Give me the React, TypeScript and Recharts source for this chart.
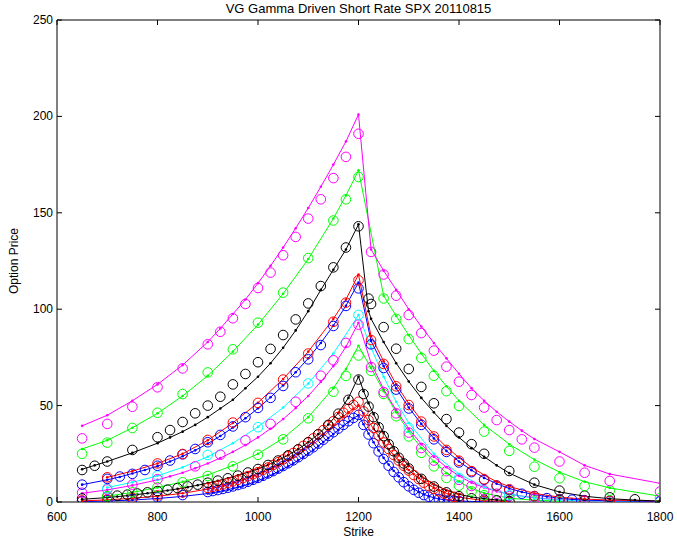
import React from "react";
import { ScatterChart, Scatter, XAxis, YAxis } from "recharts";

// strike grids and prices, shortest maturity first
const denseStrikes = [
  650, 700, 750, 800, 850,
  900, 910, 920, 930, 940, 950, 960, 970, 980, 990,
  1000, 1010, 1020, 1030, 1040, 1050, 1060, 1070, 1080, 1090,
  1100, 1110, 1120, 1130, 1140, 1150, 1160, 1170, 1180, 1190,
  1200,
  1210, 1220, 1230, 1240, 1250, 1260, 1270, 1280, 1290,
  1300, 1310, 1320, 1330, 1340, 1350, 1360, 1370, 1380, 1390,
  1400, 1450, 1500,
];

const market1 = [
  0.5, 0.9, 1.5, 2.4, 3.6,
  5.2, 5.7, 6.2, 6.8, 7.4, 8.1, 8.8, 9.6, 10.5, 11.5,
  12.5, 13.6, 14.8, 16.0, 17.3, 18.7, 20.1, 21.6, 23.2, 24.9,
  26.6, 28.4, 30.3, 32.3, 34.3, 36.2, 38.1, 40.0, 41.9, 43.6,
  45.2,
  40.0, 35.0, 30.5, 26.2, 22.3, 18.8, 15.6, 12.8, 10.3,
  8.1, 6.3, 4.8, 3.6, 2.7, 2.0, 1.5, 1.1, 0.8, 0.6,
  0.5, 0.2, 0.1,
];
const model1 = [
  0.2, 0.5, 1.0, 1.8, 2.9,
  4.4, 4.8, 5.3, 5.8, 6.4, 7.0, 7.7, 8.4, 9.2, 10.1,
  11.1, 12.1, 13.2, 14.4, 15.7, 17.1, 18.5, 20.0, 21.6, 23.3,
  25.1, 27.0, 29.0, 31.1, 33.2, 35.3, 37.4, 39.5, 41.5, 43.4,
  45.0,
  40.3, 35.5, 31.0, 26.8, 22.9, 19.4, 16.2, 13.4, 10.9,
  8.7, 6.8, 5.2, 4.0, 3.0, 2.2, 1.6, 1.2, 0.9, 0.6,
  0.5, 0.1, 0.0,
];

const market2 = [
  0.8, 1.4, 2.2, 3.4, 5.0,
  7.3, 7.9, 8.5, 9.2, 9.9, 10.7, 11.5, 12.4, 13.4, 14.4,
  15.5, 16.7, 17.9, 19.2, 20.6, 22.1, 23.7, 25.4, 27.2, 29.1,
  31.0, 33.0, 35.1, 37.3, 39.6, 41.9, 44.1, 46.3, 48.4, 50.3,
  52.0,
  47.0, 42.5, 38.4, 34.5, 30.9, 27.5, 24.4, 21.5, 18.8,
  16.3, 14.0, 11.9, 10.0, 8.3, 6.8, 5.5, 4.4, 3.5, 2.7,
  2.1, 0.5, 0.2,
];
const model2 = [
  0.6, 1.1, 1.9, 3.0, 4.5,
  6.7, 7.2, 7.8, 8.4, 9.1, 9.8, 10.6, 11.4, 12.3, 13.3,
  14.3, 15.4, 16.6, 17.8, 19.1, 20.5, 22.0, 23.6, 25.3, 27.1,
  29.0, 31.0, 33.1, 35.3, 37.6, 39.9, 42.2, 44.4, 46.5, 48.4,
  50.2,
  46.0, 41.8, 37.9, 34.2, 30.7, 27.4, 24.4, 21.6, 19.0,
  16.6, 14.4, 12.4, 10.6, 8.9, 7.4, 6.1, 5.0, 4.0, 3.2,
  2.5, 0.7, 0.2,
];

const strikes3 = [
  650, 700, 720, 740, 760, 780, 800, 820, 840, 860, 880, 900, 920, 940, 960, 980,
  1000, 1020, 1040, 1060, 1080, 1100, 1120, 1140, 1160, 1180, 1200,
  1210, 1220, 1230, 1240, 1250, 1260, 1270, 1280, 1290, 1300,
  1325, 1350, 1375, 1400, 1425, 1450, 1475, 1500,
];
const market3 = [
  1.8, 2.8, 3.3, 3.8, 4.4, 5.0, 5.7, 6.4, 7.2, 8.1, 9.0, 10.0, 11.1, 12.3, 13.7, 15.3,
  17.1, 19.2, 21.5, 24.2, 27.3, 30.9, 35.1, 40.0, 45.8, 53.0, 63.5,
  56.0, 49.5, 44.0, 38.8, 34.2, 30.0, 26.3, 23.0, 20.0, 17.4,
  12.0, 8.0, 5.0, 3.0, 1.9, 1.2, 0.8, 0.5,
];
const model3 = [
  1.4, 2.3, 2.8, 3.3, 3.9, 4.5, 5.2, 6.0, 6.8, 7.7, 8.7, 9.8, 11.0, 12.3, 13.8, 15.4,
  17.2, 19.3, 21.6, 24.3, 27.4, 31.0, 35.2, 40.2, 46.2, 54.0, 65.0,
  57.5, 51.2, 45.6, 40.5, 35.9, 31.7, 28.0, 24.6, 21.6, 18.9,
  13.3, 9.1, 6.1, 4.0, 2.6, 1.7, 1.1, 0.7,
];

const strikes4 = [
  700, 750, 800, 850, 900, 950, 1000, 1050, 1100, 1150, 1175, 1200,
  1225, 1250, 1275, 1300, 1325, 1350, 1375, 1400, 1425, 1450, 1500, 1550, 1600,
];
const market4 = [
  3.0, 5.0, 7.6, 10.2, 13.5, 18.5, 24.5, 32.5, 43.4, 57.2, 65.4, 76.0,
  68.0, 56.0, 44.5, 34.0, 25.5, 18.5, 12.5, 8.5, 5.5, 3.5, 1.5, 0.7, 0.4,
];
const model4 = [
  3.0, 5.0, 7.5, 10.5, 14.0, 19.0, 25.0, 33.0, 44.0, 59.0, 69.0, 81.0,
  69.5, 57.5, 46.5, 36.5, 28.0, 21.0, 15.0, 10.5, 7.0, 4.6, 2.0, 0.9, 0.4,
];

const strikes5 = [
  650, 700, 750, 800, 825, 850, 875, 900, 925, 950, 975, 1000, 1025, 1050, 1075, 1100,
  1125, 1150, 1175, 1200,
  1225, 1250, 1275, 1300, 1325, 1350, 1375, 1400, 1425, 1450, 1475, 1500,
  1550, 1600, 1650, 1700, 1800,
];
const market5 = [
  4.8, 6.5, 9.0, 11.8, null, null, 18.5, null, 24.5, null, 32.0, null, 40.5, null, 52.0, null,
  65.5, 73.5, 82.5, 92.0,
  70.0, 57.0, 46.0, 36.0, 28.0, 21.5, 16.0, 11.5, 8.3, 6.0, 4.3, 3.0,
  1.5, 0.8, 0.5, 0.3, 0.2,
];
const model5 = [
  4.5, 6.3, 8.6, 11.5, 13.3, 15.2, 17.5, 20.0, 22.8, 26.0, 29.5, 33.5, 38.0, 43.0, 48.7, 55.0,
  62.3, 70.5, 80.5, 93.0,
  72.0, 58.5, 47.5, 38.0, 30.0, 23.5, 18.0, 13.5, 10.0, 7.5, 5.5, 4.0,
  2.2, 1.2, 0.7, 0.4, 0.2,
];

const strikes6 = [
  700, 750, 800, 850, 900, 950, 1000, 1050, 1100, 1150, 1200,
  1225, 1250, 1275, 1300, 1350, 1400, 1450, 1500, 1550, 1600, 1700, 1800,
];
const market6 = [
  7.0, null, 13.7, null, 24.4, null, 38.8, null, 61.5, null, 97.0,
  null, null, null, 38.5, null, 12.5, null, 3.5, null, 0.8, 0.3, 0.1,
];
const model6 = [
  7.5, 10.2, 13.6, 18.0, 23.5, 30.5, 39.0, 49.0, 61.5, 77.0, 97.0,
  80.0, 65.0, 52.0, 41.0, 25.0, 14.5, 7.8, 4.0, 2.0, 1.0, 0.4, 0.2,
];

const strikes7 = [
  650, 700, 725, 750, 775, 800, 825, 850, 875, 900, 925, 950, 975, 1000, 1025, 1050,
  1075, 1100, 1125, 1150, 1175, 1200,
  1225, 1250, 1275, 1300, 1325, 1350, 1375, 1400, 1425, 1450, 1475, 1500,
  1525, 1550, 1575, 1600, 1625, 1650, 1700, 1800,
];
const market7 = [
  9.0, 12.0, 13.2, 14.6, 16.6, 18.8, 21.5, 24.7, 27.5, 31.0, 34.8, 39.2, 44.0, 48.8, 54.0, 60.2,
  67.3, 74.0, 81.4, 91.3, 101.7, 110.8,
  81.8, 69.5, 58.3, 48.5, 40.0, 32.5, 26.0, 20.5, 15.5, 11.5, 8.5, 6.2,
  4.3, 3.0, 2.0, 1.4, 1.2, 0.9, 0.6, 0.5,
];
const model7 = [
  9.0, 11.5, 13.0, 14.8, 16.6, 18.6, 21.0, 23.7, 26.8, 30.3, 34.2, 38.6, 43.4, 48.6, 54.3, 60.5,
  67.3, 74.5, 82.5, 91.5, 101.8, 113.8,
  83.5, 70.5, 59.0, 49.0, 40.5, 33.0, 26.5, 21.0, 16.5, 12.5, 9.5, 7.0,
  5.2, 3.8, 2.8, 2.0, 1.4, 1.0, 0.6, 0.2,
];

const strikes8 = [
  700, 750, 800, 850, 900, 950, 1000, 1050, 1100, 1150, 1175, 1200,
  1225, 1250, 1275, 1300, 1325, 1350, 1375, 1400, 1425, 1450, 1475, 1500,
  1550, 1600, 1650, 1700, 1800,
];
const market8 = [
  12.8, null, 20.0, 24.9, 32.2, 41.2, 51.4, 63.5, 77.0, 93.5, 103.4, 115.0,
  84.0, 71.6, 60.0, 50.3, 41.7, 34.0, 27.0, 21.4, 16.0, 11.8, 8.5, 6.6,
  3.1, 1.2, 0.7, 0.6, null,
];
const model8 = [
  12.8, 16.0, 20.0, 25.0, 32.0, 41.0, 51.5, 63.8, 78.0, 95.0, 105.0, 118.0,
  86.0, 73.0, 61.0, 51.0, 42.5, 35.0, 28.5, 23.0, 18.0, 14.0, 10.5, 8.0,
  4.5, 2.5, 1.5, 1.0, 0.5,
];

const strikes9 = [
  650, 675, 700, 750, 800, 825, 850, 875, 900, 925, 950, 975, 1000, 1025, 1050, 1075,
  1100, 1125, 1150, 1175, 1200,
  1220, 1225, 1250, 1275, 1300, 1325, 1350, 1375, 1400, 1425, 1450, 1475, 1500,
  1550, 1600, 1650, 1700, 1750, 1800,
];
const market9 = [
  16.6, 18.8, 21.0, 27.0, 33.6, 37.3, 41.5, 46.0, 50.0, 54.6, 61.0, 66.4, 72.5, 79.4, 86.6, 94.7,
  103.0, 112.0, 121.7, 132.0, 143.0,
  105.5, 102.7, 90.7, 79.5, 69.0, 59.7, 51.2, 43.0, 36.0, 30.0, 25.0, null, 16.1,
  10.0, 5.9, 3.3, 2.4, 1.4, null,
];
const model9 = [
  17.0, 19.0, 21.0, 25.5, 30.5, 33.5, 36.5, 40.0, 44.0, 48.5, 53.0, 59.0, 65.0, 72.0, 80.0, 89.0,
  99.0, 110.0, 120.5, 131.0, 144.0,
  99.0, 95.0, 83.0, 72.0, 62.5, 54.0, 46.5, 39.5, 33.5, 28.0, 23.5, 19.0, 15.0,
  9.0, 5.2, 3.0, 1.7, 1.0, 0.5,
];

const strikes10 = [
  650, 700, 750, 800, 850, 900, 950, 1000, 1050, 1100, 1150, 1175, 1200,
  1250, 1275, 1300, 1325, 1350, 1375, 1400, 1450, 1500, 1550, 1600, 1650, 1700, 1800,
];
const market10 = [
  25.0, 30.8, 38.4, 46.3, 56.0, 67.2, 79.2, 93.0, 108.6, 126.5, 146.0, 157.0, 168.6,
  105.6, 95.0, 84.5, 74.7, 65.5, 57.5, 49.8, 36.5, 26.5, 18.3, 12.3, 8.3, 5.9, 2.0,
];
const model10 = [
  27.5, 32.0, 38.5, 46.0, 55.0, 65.5, 78.0, 92.0, 108.0, 126.0, 147.0, 159.0, 172.0,
  107.0, 96.5, 86.5, 77.0, 68.0, 60.0, 52.5, 40.0, 30.0, 22.0, 15.5, 10.5, 7.3, 3.0,
];

const strikes11 = [
  650, 700, 750, 800, 850, 900, 925, 950, 975, 1000, 1025, 1050, 1075, 1100, 1125, 1150,
  1175, 1200,
  1225, 1250, 1275, 1300, 1325, 1350, 1375, 1400, 1425, 1450, 1475, 1500, 1525, 1550,
  1600, 1650, 1700, 1800,
];
const market11 = [
  33.0, 40.5, 49.4, 59.5, 69.3, 81.8, 88.3, 95.3, 102.7, 111.0, 119.0, 128.0, 137.5, 147.0, 157.0, 168.0,
  179.0, 191.0,
  129.7, 118.0, 107.0, 97.0, 87.6, 78.5, 70.2, 62.4, 55.5, 49.0, 42.5, 37.3, 32.5, 28.2,
  21.0, 15.2, 10.9, 5.4,
];
const model11 = [
  39.5, 45.0, 52.5, 61.0, 71.0, 83.0, 90.0, 97.5, 105.0, 113.5, 122.5, 132.0, 142.0, 152.5, 163.5, 175.0,
  187.0, 201.0,
  131.0, 120.0, 110.0, 100.0, 91.0, 82.5, 74.5, 66.5, 59.0, 52.5, 46.8, 41.7, 37.0, 32.7,
  26.0, 19.0, 14.5, 9.7,
];

const xTicks = [600, 800, 1000, 1200, 1400, 1600, 1800];
const yTicks = [0, 50, 100, 150, 200, 250];

const series = [
  { color: "#0000ff", strikes: denseStrikes, market: market1, model: model1 },
  { color: "#ff0000", strikes: denseStrikes, market: market2, model: model2 },
  { color: "#000000", strikes: strikes3, market: market3, model: model3 },
  { color: "#00ff00", strikes: strikes4, market: market4, model: model4 },
  { color: "#ff00ff", strikes: strikes5, market: market5, model: model5 },
  { color: "#00ffff", strikes: strikes6, market: market6, model: model6 },
  { color: "#0000ff", strikes: strikes7, market: market7, model: model7 },
  { color: "#ff0000", strikes: strikes8, market: market8, model: model8 },
  { color: "#000000", strikes: strikes9, market: market9, model: model9 },
  { color: "#00ff00", strikes: strikes10, market: market10, model: model10 },
  { color: "#ff00ff", strikes: strikes11, market: market11, model: model11 },
];

const toPoints = (strikes: number[], vals: (number | null)[]) =>
  strikes
    .map((k, i) => ({ x: k, y: vals[i] }))
    .filter((p) => p.y !== null && p.y !== undefined);

const ring = (color: string) => (p: any) =>
  <circle cx={p.cx} cy={p.cy} r={4.8} fill="none" stroke={color} strokeWidth={1} />;
const dot = (color: string) => (p: any) =>
  <circle cx={p.cx} cy={p.cy} r={1.3} fill={color} />;
const nothing = () => <g />;

const FONT = 12;

const BottomTick = (p: any) => (
  <g>
    <line x1={p.x} y1={p.y} x2={p.x} y2={p.y - 5} stroke="#000" />
    <text x={p.x} y={p.y + 19} textAnchor="middle" fontSize={FONT} fill="#000">
      {p.payload.value}
    </text>
  </g>
);
const TopTick = (p: any) => <line x1={p.x} y1={p.y} x2={p.x} y2={p.y + 5} stroke="#000" />;
const LeftTick = (p: any) => (
  <g>
    <line x1={p.x} y1={p.y} x2={p.x + 5} y2={p.y} stroke="#000" />
    <text x={p.x - 4} y={p.y + 4} textAnchor="end" fontSize={FONT} fill="#000">
      {p.payload.value}
    </text>
  </g>
);
const RightTick = (p: any) => <line x1={p.x} y1={p.y} x2={p.x - 5} y2={p.y} stroke="#000" />;

export default function App() {
  return (
    <div
      style={{
        position: "absolute",
        left: 0,
        top: 0,
        width: 677,
        height: 539,
        background: "#fff",
        fontFamily: "'Liberation Sans', Arial, sans-serif",
      }}
    >
      <div
        style={{
          position: "absolute",
          left: 57,
          width: 603,
          top: 1,
          textAlign: "center",
          fontSize: 13,
          color: "#000",
        }}
      >
        VG Gamma Driven Short Rate SPX 20110815
      </div>
      <ScatterChart width={677} height={539} margin={{ top: 19, right: 16, bottom: 0, left: 0 }}>
        <XAxis
          type="number"
          dataKey="x"
          domain={[600, 1800]}
          ticks={xTicks}
          allowDataOverflow
          height={37}
          tickSize={0}
          tickMargin={0}
          tick={<BottomTick />}
          axisLine={{ stroke: "#000" }}
          label={{ value: "Strike", position: "insideBottom", offset: 3, fill: "#000", fontSize: FONT }}
        />
        <XAxis
          xAxisId="top"
          orientation="top"
          type="number"
          dataKey="x"
          domain={[600, 1800]}
          ticks={xTicks}
          allowDataOverflow
          height={1}
          tickSize={0}
          tickMargin={0}
          tick={<TopTick />}
          axisLine={{ stroke: "#000" }}
        />
        <YAxis
          type="number"
          dataKey="y"
          domain={[0, 250]}
          ticks={yTicks}
          allowDataOverflow
          width={57}
          tickSize={0}
          tickMargin={0}
          tick={<LeftTick />}
          axisLine={{ stroke: "#000" }}
          label={{
            value: "Option Price",
            angle: -90,
            position: "insideLeft",
            offset: 14,
            fill: "#000",
            fontSize: FONT,
            style: { textAnchor: "middle" },
          }}
        />
        <YAxis
          yAxisId="right"
          orientation="right"
          type="number"
          dataKey="y"
          domain={[0, 250]}
          ticks={yTicks}
          allowDataOverflow
          width={1}
          tickSize={0}
          tickMargin={0}
          tick={<RightTick />}
          axisLine={{ stroke: "#000" }}
        />
        {/* invisible copy so the top and right frame axes get drawn */}
        <Scatter
          xAxisId="top"
          yAxisId="right"
          data={toPoints(strikes11, model11)}
          shape={nothing}
          isAnimationActive={false}
        />
        {series.map((s, i) => (
          <Scatter
            key={"m" + i}
            data={toPoints(s.strikes, s.model)}
            line={{ stroke: s.color, strokeWidth: 1 }}
            shape={dot(s.color)}
            isAnimationActive={false}
          />
        ))}
        {series.map((s, i) => (
          <Scatter
            key={"k" + i}
            data={toPoints(s.strikes, s.market)}
            shape={ring(s.color)}
            isAnimationActive={false}
          />
        ))}
      </ScatterChart>
    </div>
  );
}
